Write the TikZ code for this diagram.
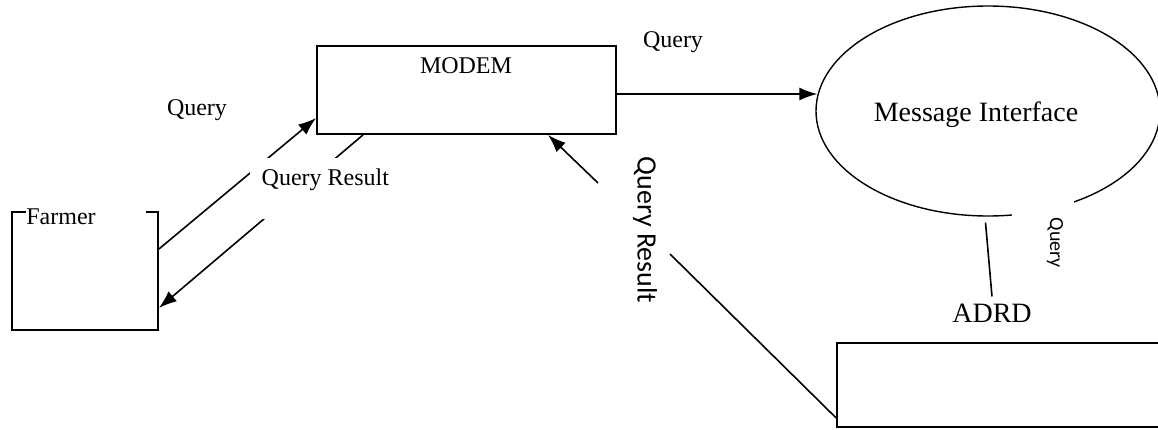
\documentclass[tikz,border=0pt]{standalone}
\usepackage{fontspec}
\setmainfont{Liberation Serif}
\newfontfamily\calibrifont{Carlito}
\usetikzlibrary{shapes.geometric, arrows.meta}

\begin{document}
\begin{tikzpicture}[x=0.5pt, y=-0.5pt,
    box/.style={draw, line width=0.9pt, inner sep=0pt},
    txt/.style={font=\fontsize{12}{14}\selectfont, inner sep=0pt},
    bigtxt/.style={font=\fontsize{14}{16}\selectfont},
    flow/.style={line width=0.8pt, >={Latex[length=9pt,width=6.5pt]}}]
    \useasboundingbox (0,0) rectangle (1158,429);
    % Add the boxes
        \node[box,
              minimum width=73pt,
              minimum height=59pt] (farmer) at (85,271) {};
        \node[box,
              minimum width=149.5pt,
              minimum height=44pt] (modem) at (466.5,90) {};
        \node[box,
              minimum width=166.5pt,
              minimum height=42pt] (adrd) at (1003.5,385) {};
        \node[draw,
              ellipse,
              line width=0.7pt,
              inner sep=0pt,
              minimum width=172pt,
              minimum height=105pt,
              label={[bigtxt, xshift=-6pt, yshift=-2pt]center:Message Interface}] (msg) at (988,111) {};

    % Add the flows
        \coordinate (qrtail) at (598,183);
        \coordinate (adtail) at (670,254);
        \draw[flow, ->] ([yshift=11pt]farmer.east) -- ([yshift=-14pt]modem.west);
        \draw[flow, ->] ([xshift=-51.75pt]modem.south) -- ([yshift=-18.5pt]farmer.east);
        \draw[flow, ->] ([yshift=-2pt]modem.east) -- ([xshift=1pt, yshift=8.5pt]msg.west);
        \draw[flow, ->] (qrtail) -- ([xshift=40.75pt]modem.south);
        \draw[flow] (adtail) -- ([yshift=5pt]adrd.south west);

    % Add the labels
        \node[txt,
              fill=white,
              anchor=base west,
              text width=60pt] (farmerlbl) at (26,224) {Farmer};
        \node[txt, anchor=base] (modemlbl) at (466,73) {MODEM};
        \node[txt, anchor=base] (qleft) at (197,115) {Query};
        \node[txt, anchor=base] (qtop) at (673,47) {Query};
        \node[txt,
              fill=white,
              anchor=north west,
              minimum width=75pt,
              text height=13.5pt,
              text depth=17pt] (qresult) at (250,158) {Query Result};
        \node[font=\calibrifont\fontsize{14}{16}\selectfont,
              rotate=-90,
              inner sep=0pt] (qresvert) at (645,230) {Query Result};
        \node[font=\calibrifont\fontsize{10}{12}\selectfont,
              rotate=-90,
              fill=white,
              inner sep=0pt,
              text height=12pt,
              text depth=19pt,
              minimum width=53pt] (qsmall) at (1043,243) {Query};
        \node[bigtxt, anchor=base] (adrdlbl) at (992,322) {ADRD};
        \draw[flow, shorten <=3pt] ([xshift=-1.5pt]msg.south) -- (adrdlbl.north);
\end{tikzpicture}
\end{document}
